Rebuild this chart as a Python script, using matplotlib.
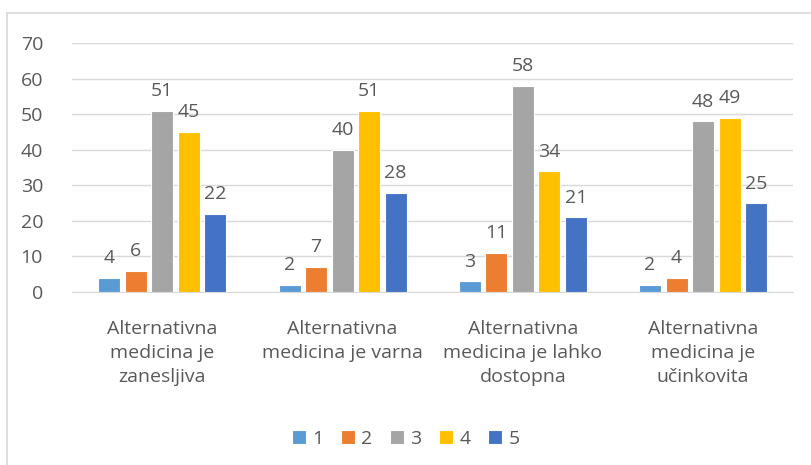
import numpy as np
from matplotlib import pyplot as plt
from matplotlib.lines import Line2D

categories = ["Alternativna\nmedicina je\nzanesljiva",
              "Alternativna\nmedicina je varna",
              "Alternativna\nmedicina je lahko\ndostopna",
              "Alternativna\nmedicina je\nučinkovita"]
series_names = ["1", "2", "3", "4", "5"]
s1 = [4, 2, 3, 2]
s2 = [6, 7, 11, 4]
s3 = [51, 40, 58, 48]
s4 = [45, 51, 34, 49]
s5 = [22, 28, 21, 25]
colors = ["#5B9BD5", "#ED7D31", "#A5A5A5", "#FFC000", "#4472C4"]
txt = "#595959"

plt.rcParams['font.family'] = ['Open Sans', 'DejaVu Sans']
fs = 14

fig = plt.figure(figsize=(8.11, 4.65), dpi=100)
ax = fig.add_axes([0.089, 0.372, 0.889, 0.535])

x = np.arange(len(categories))
slot = 0.147
w = 0.122
for i, vals in enumerate([s1, s2, s3, s4, s5]):
    pos = x + (i - 2) * slot
    bars = ax.bar(pos, vals, w, color=colors[i], edgecolor="white", linewidth=0.8,
                  label=series_names[i], zorder=3)
    for b, v in zip(bars, vals):
        ax.text(b.get_x() + b.get_width() / 2, v + 3, str(v), ha="center",
                va="bottom", fontsize=fs, color=txt)

ax.set_xlim(-0.5, 3.5)
ax.set_ylim(0, 70)
ax.set_yticks(range(0, 71, 10))
ax.yaxis.grid(True, color="#D9D9D9", linewidth=1, zorder=0)
for s in ["top", "right", "left"]:
    ax.spines[s].set_visible(False)
ax.spines["bottom"].set_color("#D9D9D9")
ax.tick_params(axis="both", length=0, labelsize=fs, colors=txt)
ax.tick_params(axis="y", pad=21)
ax.tick_params(axis="x", pad=20)
ax.set_xticks(x)
ax.set_xticklabels(categories, linespacing=1.42)

fig.legend(loc="lower center", bbox_to_anchor=(0.5, 0.0), ncol=5, frameon=False,
           fontsize=fs, handlelength=0.75, handleheight=0.75, handletextpad=0.3,
           columnspacing=0.9, labelcolor=txt)

# chart border (left and top visible)
fig.add_artist(Line2D([0.009, 0.009], [0.0, 0.972], color="#D9D9D9", linewidth=1.2))
fig.add_artist(Line2D([0.009, 1.0], [0.972, 0.972], color="#D9D9D9", linewidth=1.2))

fig.savefig("out.png", dpi=100)
